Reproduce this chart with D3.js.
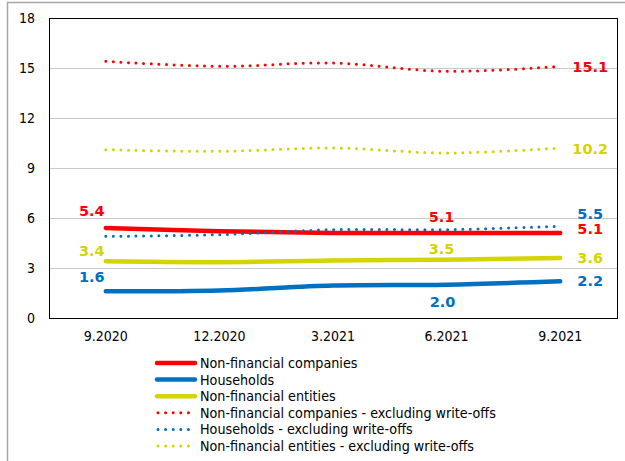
<!DOCTYPE html>
<html><head><meta charset="utf-8">
<script src="https://cdn.jsdelivr.net/npm/d3@7"></script>
<style>
  html, body { margin: 0; padding: 0; background: #fff; }
  svg { display: block; }
  text { font-family: "DejaVu Sans Condensed", "DejaVu Sans", sans-serif; }
</style>
</head><body>
<svg id="chart" width="625" height="461"></svg>
<script>
// Quarterly periods
const periods = ["9.2020", "12.2020", "3.2021", "6.2021", "9.2021"];
const yTicks = [0, 3, 6, 9, 12, 15, 18];

// Series values (%)
const nfCompanies      = [5.4, 5.2, 5.1, 5.1, 5.1];
const households       = [1.6, 1.65, 1.95, 2.0, 2.2];
const nfEntities       = [3.4, 3.35, 3.45, 3.5, 3.6];
const nfCompaniesExWO  = [15.4, 15.1, 15.3, 14.8, 15.1];
const householdsExWO   = [4.9, 5.0, 5.3, 5.3, 5.5];
const nfEntitiesExWO   = [10.1, 10.0, 10.2, 9.9, 10.2];

const seriesNames = [
  "Non-financial companies",
  "Households",
  "Non-financial entities",
  "Non-financial companies - excluding write-offs",
  "Households - excluding write-offs",
  "Non-financial entities - excluding write-offs"
];

const RED = "#ff0000", BLUE = "#0070c0", YELLOW = "#d4d400";

const series = [
  { name: seriesNames[0], values: nfCompanies,     color: RED,    dotted: false },
  { name: seriesNames[1], values: households,      color: BLUE,   dotted: false },
  { name: seriesNames[2], values: nfEntities,      color: YELLOW, dotted: false },
  { name: seriesNames[3], values: nfCompaniesExWO, color: RED,    dotted: true },
  { name: seriesNames[4], values: householdsExWO,  color: BLUE,   dotted: true },
  { name: seriesNames[5], values: nfEntitiesExWO,  color: YELLOW, dotted: true }
];

// Value labels: series index, period index, offsets from the point
const labels = [
  { s: 0, i: 0, dx: -14, dy: -12 }, { s: 0, i: 3, dx: -5, dy: -11 }, { s: 0, i: 4, dx: 30, dy: 1 },
  { s: 1, i: 0, dx: -14, dy: -9 },  { s: 1, i: 3, dx: -4, dy: 22 },  { s: 1, i: 4, dx: 30, dy: 5 },
  { s: 2, i: 0, dx: -14, dy: -5 },  { s: 2, i: 3, dx: -5, dy: -6 },  { s: 2, i: 4, dx: 30, dy: 5 },
  { s: 3, i: 4, dx: 30, dy: 6 },
  { s: 4, i: 4, dx: 30, dy: -7 },
  { s: 5, i: 4, dx: 30, dy: 6 }
];

const svg = d3.select("#chart");
const margin = { left: 49, top: 18, right: 617, bottom: 318 };

// Outer frame
svg.append("rect")
  .attr("x", 7.5).attr("y", 2.5).attr("width", 640).attr("height", 480)
  .attr("fill", "none").attr("stroke", "#a6a6a6").attr("stroke-width", 1.5);

const x = d3.scaleBand().domain(periods).range([margin.left, margin.right]);
const xc = d => x(d) + x.bandwidth() / 2;
const y = d3.scaleLinear().domain([0, 18]).range([margin.bottom, margin.top]);

// Gridlines
svg.append("g")
  .selectAll("line")
  .data(yTicks.filter(t => t > 0 && t < 18))
  .join("line")
  .attr("x1", margin.left).attr("x2", margin.right)
  .attr("y1", d => y(d) + 0.5).attr("y2", d => y(d) + 0.5)
  .attr("stroke", "#c8c8c8").attr("stroke-width", 1);

// Plot frame
svg.append("rect")
  .attr("x", margin.left + 0.5).attr("y", margin.top + 0.5)
  .attr("width", margin.right - margin.left).attr("height", margin.bottom - margin.top)
  .attr("fill", "none").attr("stroke", "#000").attr("stroke-width", 1);

// Y axis
const yAxis = svg.append("g")
  .attr("transform", `translate(${margin.left},0)`)
  .call(d3.axisLeft(y).tickValues(yTicks).tickSize(0).tickPadding(14));
yAxis.select(".domain").remove();
yAxis.selectAll("text").attr("font-size", 14).attr("fill", "#000")
  .style("font-family", "'DejaVu Sans Condensed', sans-serif");

// X axis
const xAxis = svg.append("g")
  .attr("transform", `translate(0,${margin.bottom})`)
  .call(d3.axisBottom(x).tickSize(0).tickPadding(13));
xAxis.select(".domain").remove();
xAxis.selectAll("text").attr("font-size", 14).attr("fill", "#000")
  .style("font-family", "'DejaVu Sans Condensed', sans-serif");

// Lines
const line = d3.line()
  .x((d, i) => xc(periods[i]))
  .y(d => y(d))
  .curve(d3.curveCatmullRom.alpha(0.5));

const drawOrder = [3, 5, 2, 1, 0, 4];
drawOrder.forEach(k => {
  const s = series[k];
  svg.append("path")
    .attr("d", line(s.values))
    .attr("fill", "none")
    .attr("stroke", s.color)
    .attr("stroke-width", s.dotted ? 3 : 4.5)
    .attr("stroke-linecap", "round")
    .attr("stroke-dasharray", s.dotted ? "0 7.6" : null);
});

// Value labels
svg.append("g")
  .selectAll("text")
  .data(labels)
  .join("text")
  .attr("x", d => xc(periods[d.i]) + d.dx)
  .attr("y", d => y(series[d.s].values[d.i]) + d.dy)
  .attr("text-anchor", "middle")
  .attr("font-size", 14.5)
  .attr("font-weight", "bold")
  .attr("fill", d => series[d.s].color)
  .style("font-family", "'DejaVu Sans', sans-serif")
  .text(d => series[d.s].values[d.i].toFixed(1));

// Legend
const legend = svg.append("g").attr("transform", "translate(157,363)");
series.forEach((s, k) => {
  const g = legend.append("g").attr("transform", `translate(0,${k * 16.6})`);
  g.append("line")
    .attr("x1", s.dotted ? 1 : 0).attr("x2", s.dotted ? 33 : 38)
    .attr("y1", 0).attr("y2", 0)
    .attr("stroke", s.color)
    .attr("stroke-width", s.dotted ? 3 : 4.5)
    .attr("stroke-linecap", "round")
    .attr("stroke-dasharray", s.dotted ? "0 7.6" : null);
  g.append("text")
    .attr("x", 43).attr("y", 5)
    .attr("font-size", 14.2).attr("fill", "#000")
    .text(s.name);
});
</script>
</body></html>
